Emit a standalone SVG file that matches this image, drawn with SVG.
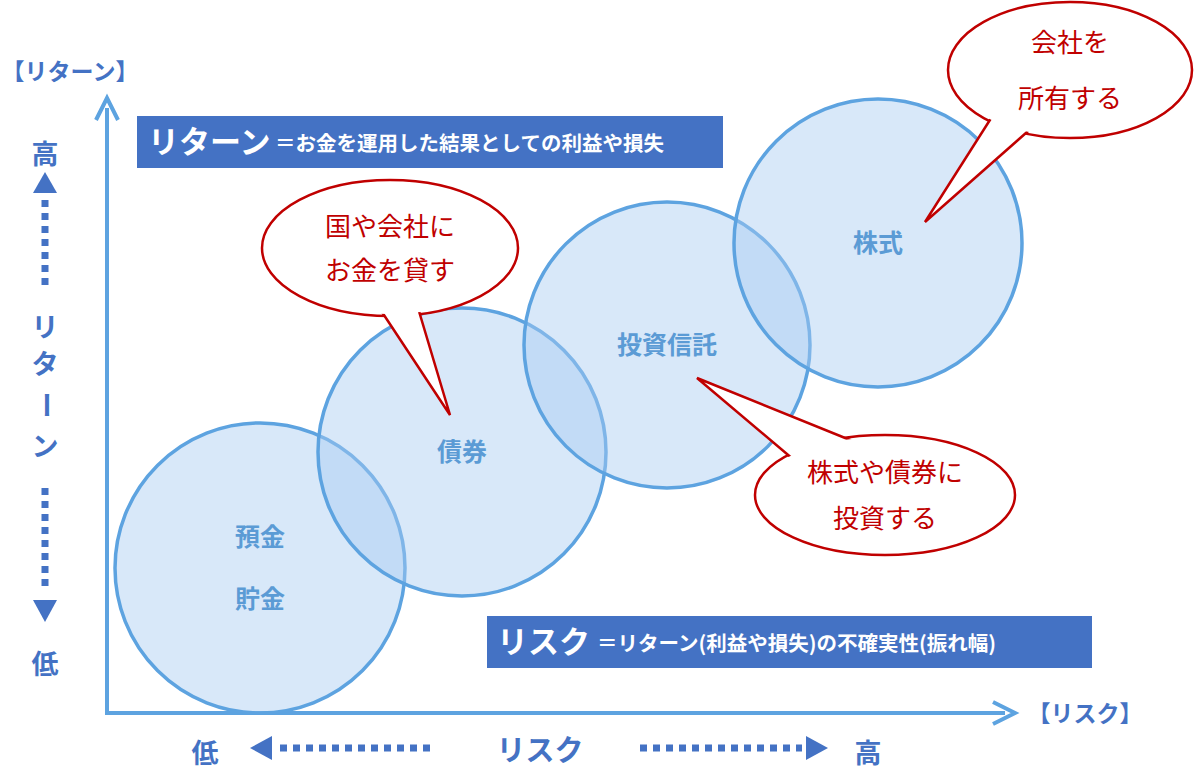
<svg xmlns="http://www.w3.org/2000/svg" width="1200" height="770" viewBox="0 0 1200 770">
<style>
text{font-family:"Noto Sans CJK JP","Noto Sans",sans-serif;font-weight:bold}
.ax{fill:#4472c4}
.c{fill:#a9cbf2;fill-opacity:0.45;stroke:#5da3e0;stroke-width:3.5}
.cl{fill:#5b9bd5;font-size:25px;text-anchor:middle}
.b{fill:#fff;stroke:#c00000;stroke-width:2.5}
.bn{fill:#fff}
.bt{fill:#c00000;font-size:26px;text-anchor:middle;font-weight:normal}
.dash{stroke:#4472c4;stroke-width:7;stroke-dasharray:7 6}
</style>
<rect width="1200" height="770" fill="#fff"/>
<g id="axes">
<line x1="107" y1="713" x2="107" y2="108" stroke="#5da3e0" stroke-width="4"/>
<polyline points="96,120 107,98 118,120" fill="none" stroke="#5da3e0" stroke-width="4"/>
<line x1="105" y1="713" x2="1005" y2="713" stroke="#5da3e0" stroke-width="4"/>
<polyline points="993,702 1015,713 993,724" fill="none" stroke="#5da3e0" stroke-width="4"/>
<text x="70" y="80" class="ax" font-size="23" text-anchor="middle">【リターン】</text>
<text x="1085" y="722" class="ax" font-size="23" text-anchor="middle">【リスク】</text>
<text x="45" y="164" class="ax" font-size="27" text-anchor="middle">高</text>
<polygon points="45,172 33,193 57,193" fill="#4472c4"/>
<line x1="45" y1="200" x2="45" y2="290" class="dash"/>
<text x="45" y="337" class="ax" font-size="27" text-anchor="middle">リ</text>
<text x="45" y="374" class="ax" font-size="27" text-anchor="middle">タ</text>
<text x="45" y="414" class="ax" font-size="27" text-anchor="middle" transform="rotate(90 45 405)">ー</text>
<text x="45" y="456" class="ax" font-size="27" text-anchor="middle">ン</text>
<line x1="45" y1="488" x2="45" y2="592" class="dash"/>
<polygon points="45,622 33,600 57,600" fill="#4472c4"/>
<text x="45" y="674" class="ax" font-size="27" text-anchor="middle">低</text>
<text x="205" y="763" class="ax" font-size="27" text-anchor="middle">低</text>
<polygon points="250,748 272,736 272,760" fill="#4472c4"/>
<line x1="280" y1="748" x2="436" y2="748" class="dash"/>
<text x="540" y="761" class="ax" font-size="29" text-anchor="middle">リスク</text>
<line x1="640" y1="748" x2="802" y2="748" class="dash"/>
<polygon points="828,748 806,736 806,760" fill="#4472c4"/>
<text x="868" y="763" class="ax" font-size="27" text-anchor="middle">高</text>
</g>
<g id="banner-return">
<rect x="137" y="116" width="586" height="52" fill="#4472c4"/>
<text x="148" y="153" fill="#fff" font-size="31">リターン</text>
<text x="275" y="151" fill="#fff" font-size="20.5">＝お金を運用した結果としての利益や損失</text>
</g>
<g id="banner-risk">
<rect x="487" y="616" width="605" height="52" fill="#4472c4"/>
<text x="497" y="653" fill="#fff" font-size="31">リスク</text>
<text x="597" y="651" fill="#fff" font-size="20.5">＝リターン(利益や損失)の不確実性(振れ幅)</text>
</g>
<g id="node-yokin"><circle cx="260" cy="568" r="145" class="c"/><text x="260" y="546" class="cl">預金</text><text x="260" y="608" class="cl">貯金</text></g>
<g id="node-saiken"><circle cx="462" cy="452" r="144" class="c"/><text x="462" y="461" class="cl">債券</text></g>
<g id="node-toshin"><circle cx="667" cy="345" r="143" class="c"/><text x="667" y="354" class="cl">投資信託</text></g>
<g id="node-kabu"><circle cx="878" cy="243" r="144" class="c"/><text x="878" y="252" class="cl">株式</text></g>
<g id="callout-1">
<ellipse cx="390" cy="248" rx="128" ry="68" class="b"/>
<polygon points="378,306 450,415 418,308" class="b"/>
<ellipse cx="390" cy="248" rx="126" ry="66" class="bn"/>
<text x="390" y="236" class="bt">国や会社に</text>
<text x="390" y="280" class="bt">お金を貸す</text>
</g>
<g id="callout-2">
<ellipse cx="1070" cy="70" rx="122" ry="68" class="b"/>
<polygon points="995,112 925,222 1035,125" class="b"/>
<ellipse cx="1070" cy="70" rx="120" ry="66" class="bn"/>
<text x="1070" y="52" class="bt">会社を</text>
<text x="1070" y="108" class="bt">所有する</text>
</g>
<g id="callout-3">
<ellipse cx="885" cy="495" rx="130" ry="60" class="b"/>
<polygon points="860,444 697,378 800,465" class="b"/>
<ellipse cx="885" cy="495" rx="128" ry="58" class="bn"/>
<text x="885" y="482" class="bt">株式や債券に</text>
<text x="885" y="528" class="bt">投資する</text>
</g>
</svg>
